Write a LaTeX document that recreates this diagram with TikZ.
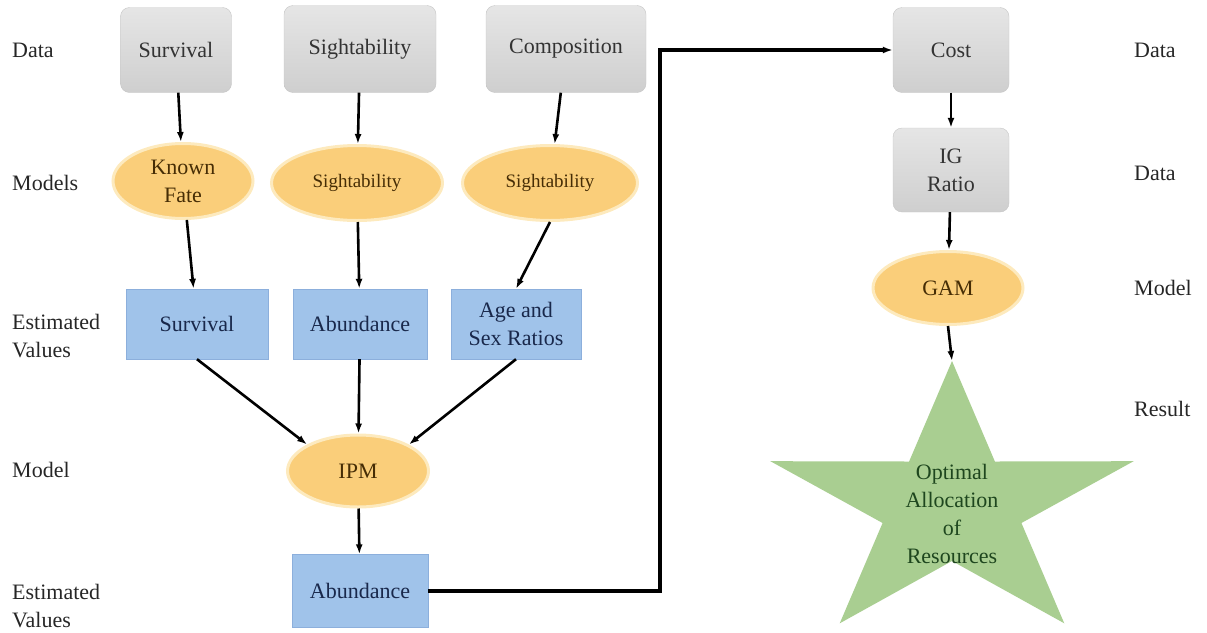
\documentclass[tikz,border=0pt]{standalone}
\usepackage{fontspec}
\setmainfont{LiberationSerif}[Extension=.ttf, UprightFont=*-Regular, BoldFont=*-Bold]
\usetikzlibrary{shapes.geometric,arrows.meta}
\definecolor{ellfill}{RGB}{250,206,122}
\definecolor{ellhalo}{RGB}{253,234,190}
\definecolor{ellText}{RGB}{70,45,5}
\definecolor{estfill}{RGB}{160,195,234}
\definecolor{estline}{RGB}{140,175,220}
\definecolor{estText}{RGB}{25,40,75}
\definecolor{starfill}{RGB}{169,206,145}
\definecolor{starText}{RGB}{30,70,30}

\begin{document}
\begin{tikzpicture}[x=1pt,y=-1pt,
    every node/.style={font=\rmfamily\fontsize{22}{28}\selectfont, align=center, inner sep=0pt},
    databox/.style={rounded corners=9pt, draw=gray!45, top color=gray!20, bottom color=gray!38, text=black!80},
    modelell/.style={ellipse, fill=ellfill, draw=ellhalo, line width=3pt, text=ellText},
    estbox/.style={rectangle, fill=estfill, draw=estline, text=estText},
    lbl/.style={anchor=west, align=left, text=black!85},
    conn/.style={-{Latex[length=10pt,width=7pt]}, line width=2.6pt}]
    \useasboundingbox (0,0) rectangle (1207,632);

    % row labels
    \node[lbl] (ldata) at (12,50) {Data};
    \node[lbl] (lmodels) at (12,183) {Models};
    \node[lbl] (lest) at (12,336) {Estimated\\Values};
    \node[lbl] (lmodel) at (12,470) {Model};
    \node[lbl] (lest2) at (12,606) {Estimated\\Values};
    \node[lbl] (rdata) at (1134,50) {Data};
    \node[lbl] (rdata2) at (1134,173) {Data};
    \node[lbl] (rmodel) at (1134,288) {Model};
    \node[lbl] (rresult) at (1134,409) {Result};

    % data
    \node[databox, minimum width=111pt, minimum height=85pt] (dsurv) at (176,50) {Survival};
    \node[databox, minimum width=152pt, minimum height=87pt] (dsight) at (360,49) {Sightability};
    \node[databox, minimum width=160pt, minimum height=87pt] (dcomp) at (566,49) {Composition};
    \node[databox, minimum width=116pt, minimum height=85pt] (cost) at (951,50) {Cost};
    \node[databox, minimum width=116pt, minimum height=84pt] (igr) at (951,170) {IG\\Ratio};

    % models
    \node[modelell, minimum width=140pt, minimum height=75pt] (kf) at (183,181) {Known\\Fate};
    \node[modelell, minimum width=171pt, minimum height=75pt, font=\rmfamily\fontsize{19}{24}\selectfont] (msight) at (357,183) {Sightability};
    \node[modelell, minimum width=175pt, minimum height=75pt, font=\rmfamily\fontsize{19}{24}\selectfont] (mcomp) at (550,183) {Sightability};
    \node[modelell, minimum width=141pt, minimum height=72pt] (ipm) at (358,471) {IPM};
    \node[modelell, minimum width=150pt, minimum height=73pt] (gam) at (948,288) {GAM};

    % estimated values
    \node[estbox, minimum width=142pt, minimum height=70pt] (esurv) at (197,324) {Survival};
    \node[estbox, minimum width=134pt, minimum height=70pt] (eabund) at (360,324) {Abundance};
    \node[estbox, minimum width=130pt, minimum height=70pt] (eage) at (516,324) {Age and\\Sex Ratios};
    \node[estbox, minimum width=136pt, minimum height=73pt] (eabund2) at (360,591) {Abundance};

    % result
    \fill[starfill] (952,361) \foreach \k in {1,...,9} {
        -- ({952+(isodd(\k)?73:191)*cos(90+36*\k)}, {506-(isodd(\k)?55:145)*sin(90+36*\k)})
    } -- cycle;
    \coordinate (startop) at (952,361);
    \node[text=starText] (result) at (952,514) {Optimal\\Allocation\\of\\Resources};

    \draw[conn] (dsurv) -- (kf);
    \draw[conn] (dsight) -- (msight);
    \draw[conn] (dcomp) -- (mcomp);
    \draw[conn] (kf) -- (esurv);
    \draw[conn] (msight) -- (eabund);
    \draw[conn] (mcomp.south) -- (eage.north);
    \draw[conn] (esurv.south) -- (ipm.north west);
    \draw[conn] (eabund) -- (ipm);
    \draw[conn] (eage.south) -- (ipm.north east);
    \draw[conn] (ipm) -- (eabund2);
    \coordinate (bend) at (660,320);
    \draw[conn, line width=3.5pt] (eabund2.east) -| (bend) |- (cost.west);
    \draw[conn] (cost) -- (igr);
    \draw[conn] (igr) -- (gam);
    \draw[conn] (gam.south) -- (startop);
\end{tikzpicture}
\end{document}
